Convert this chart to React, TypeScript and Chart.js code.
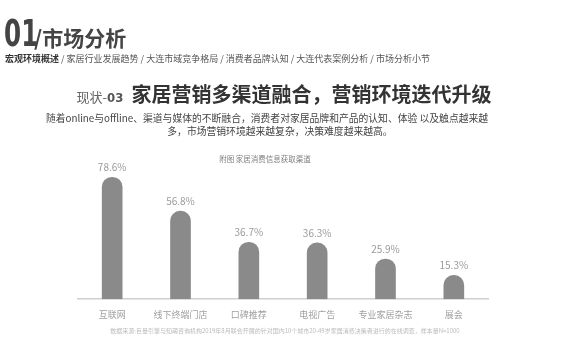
import React, { useEffect, useRef } from "react";
import { Chart, registerables } from "chart.js";

Chart.register(...registerables);

const categories = ["互联网", "线下终端门店", "口碑推荐", "电视广告", "专业家居杂志", "展会"];
const values = [78.6, 56.8, 36.7, 36.3, 25.9, 15.3];
const navItems = ["家居行业发展趋势", "大连市域竞争格局", "消费者品牌认知", "大连代表案例分析", "市场分析小节"];

const CJK = '"Noto Sans CJK SC", "Noto Sans", sans-serif';
const COND = '"DejaVu Sans Condensed", "DejaVu Sans", sans-serif';

const labelPlugin = {
  id: "valueLabels",
  afterDatasetsDraw(chart: any) {
    const ctx = chart.ctx;
    const meta = chart.getDatasetMeta(0);
    ctx.save();
    ctx.font = `10px ${CJK}`;
    ctx.fillStyle = "#9a9a9a";
    ctx.textAlign = "center";
    ctx.textBaseline = "middle";
    meta.data.forEach((el: any, i: number) => {
      ctx.fillText(values[i].toFixed(1) + "%", el.x, el.y - 10);
    });
    ctx.restore();
  },
};

export default function App() {
  const ref = useRef<HTMLCanvasElement>(null);
  useEffect(() => {
    if (!ref.current) return;
    const chart = new Chart(ref.current, {
      type: "bar",
      data: {
        labels: categories,
        datasets: [
          {
            data: values,
            backgroundColor: "#8a8a8a",
            barThickness: 20,
            borderRadius: { topLeft: 10, topRight: 10, bottomLeft: 0, bottomRight: 0 },
            borderSkipped: false,
          },
        ],
      },
      options: {
        animation: false,
        responsive: false,
        maintainAspectRatio: false,
        layout: { padding: { left: 78, right: 82, top: 144, bottom: 30 } },
        plugins: {
          legend: { display: false },
          tooltip: { enabled: false },
          title: { display: false },
        },
        scales: {
          x: {
            grid: { display: false, drawTicks: false },
            border: { display: true, color: "#cfcfcf", width: 1.5 },
            ticks: { color: "#a0a0a0", font: { size: 9, family: CJK }, padding: 10 },
          },
          y: {
            display: false,
            min: 0,
            max: 100,
          },
        },
      },
      plugins: [labelPlugin],
    });
    return () => chart.destroy();
  }, []);

  return (
    <div style={{ position: "absolute", left: 0, top: 0, width: 570, height: 360, background: "#fff", overflow: "hidden", fontFamily: CJK }}>
      <canvas ref={ref} width={570} height={360} style={{ position: "absolute", left: 0, top: 0 }} />
      <div style={{ position: "absolute", left: 4, top: 14, display: "flex", alignItems: "baseline", color: "#444", whiteSpace: "nowrap" }}>
        <span style={{ display: "inline-block", fontFamily: COND, fontWeight: 700, fontSize: 38, lineHeight: 1, transform: "scaleX(0.72)", transformOrigin: "left", width: 30 }}>01</span>
        <span style={{ fontWeight: 700, fontSize: 21, lineHeight: 1 }}>/市场分析</span>
      </div>
      <div style={{ position: "absolute", left: 5, top: 53, fontSize: 9, color: "#555", whiteSpace: "nowrap", lineHeight: "12px" }}>
        <span style={{ fontWeight: 700, color: "#333" }}>宏观环境概述</span>
        {navItems.map((n) => (
          <span key={n}> / {n}</span>
        ))}
      </div>
      <div style={{ position: "absolute", left: 0, width: 568, top: 79, textAlign: "center", whiteSpace: "nowrap", color: "#333" }}>
        <span style={{ fontSize: 13, color: "#666" }}>现状-</span>
        <span style={{ fontFamily: COND, fontWeight: 700, fontSize: 13, color: "#555" }}>03</span>
        <span style={{ fontSize: 20, fontWeight: 700, marginLeft: 8 }}>家居营销多渠道融合，营销环境迭代升级</span>
      </div>
      <div style={{ position: "absolute", left: 0, width: 534, top: 112, textAlign: "center", fontSize: 9.8, lineHeight: "13px", color: "#444", whiteSpace: "nowrap" }}>
        随着online与offline、渠道与媒体的不断融合，消费者对家居品牌和产品的认知、体验 以及触点越来越
      </div>
      <div style={{ position: "absolute", left: 0, width: 560, top: 125, textAlign: "center", fontSize: 9.8, lineHeight: "13px", color: "#444", whiteSpace: "nowrap" }}>
        多，市场营销环境越来越复杂，决策难度越来越高。
      </div>
      <div style={{ position: "absolute", left: 0, width: 530, top: 153, textAlign: "center", fontSize: 7.5, color: "#808080", whiteSpace: "nowrap" }}>
        附图 家居消费信息获取渠道
      </div>
      <div style={{ position: "absolute", left: 0, width: 570, top: 326, textAlign: "center", fontSize: 6, color: "#bbb", whiteSpace: "nowrap" }}>
        数据来源:巨量引擎与知萌咨询机构2019年8月联合开展的针对国内10个城市20-49岁家居消费决策者进行的在线调查，样本量N=1000
      </div>
    </div>
  );
}
